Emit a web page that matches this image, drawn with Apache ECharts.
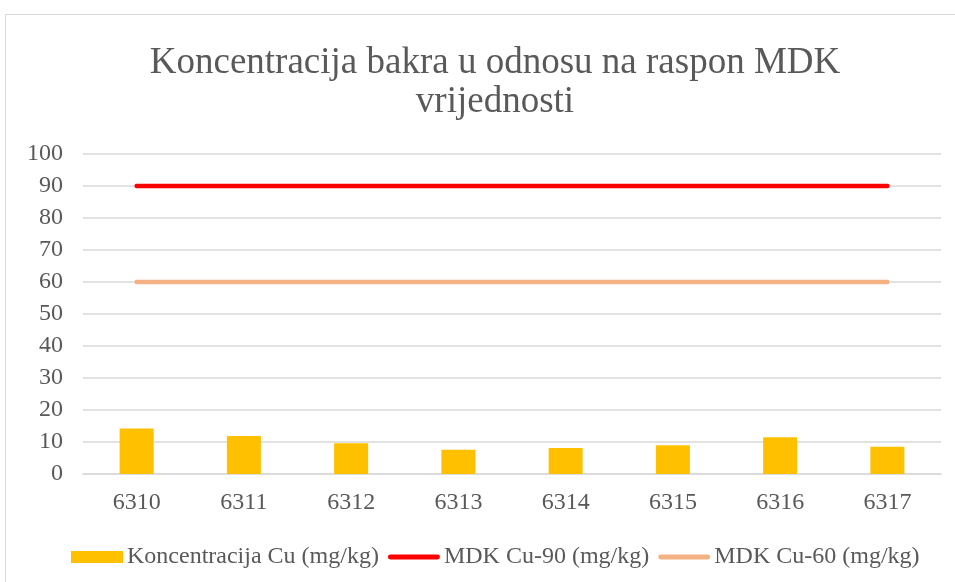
<!DOCTYPE html>
<html>
<head>
<meta charset="utf-8">
<script src="https://cdn.jsdelivr.net/npm/echarts@6/dist/echarts.min.js"></script>
<style>
  html, body { margin: 0; padding: 0; background: #fff; }
  #frame { position: absolute; left: 5px; top: 14px; width: 1000px; height: 600px; border: 1px solid #d9d9d9; }
  #chart { position: absolute; left: 0; top: 0; width: 955px; height: 582px; }
</style>
</head>
<body>
<div id="frame"></div>
<div id="chart"></div>
<script>
// podaci
const categories = ['6310', '6311', '6312', '6313', '6314', '6315', '6316', '6317']
const cuValues = [14.2, 11.9, 9.6, 7.6, 8.1, 9.0, 11.5, 8.5]
const mdk90 = [90, 90, 90, 90, 90, 90, 90, 90]
const mdk60 = [60, 60, 60, 60, 60, 60, 60, 60]

const font = 'Liberation Serif, Times New Roman, serif'
const textColor = '#595959'
const lineIcon = 'path://M2,0 L50,0 A2.5,2.5 0 0 1 50,5 L2,5 A2.5,2.5 0 0 1 2,0 Z'

const chart = echarts.init(document.getElementById('chart'))
chart.setOption({
    animation: false,
    title: {
        text: 'Koncentracija bakra u odnosu na raspon MDK\nvrijednosti',
        left: 490,
        top: 39,
        textAlign: 'center',
        textStyle: {
            fontFamily: font,
            fontWeight: 'normal',
            fontSize: 37,
            lineHeight: 39,
            color: textColor
        }
    },
    color: ['#ffc000', '#ff0000', '#f4b183'],
    grid: {
        left: 83,
        right: 14,
        top: 154,
        bottom: 108,
        containLabel: false
    },
    legend: {
        top: 540,
        left: 66,
        itemWidth: 52,
        itemHeight: 12,
        itemGap: 9,
        textStyle: {
            fontFamily: font,
            fontSize: 24,
            color: textColor,
            padding: [0, 0, 0, -1]
        },
        data: [
            { name: 'Koncentracija Cu (mg/kg)', icon: 'rect' },
            { name: 'MDK Cu-90 (mg/kg)', icon: lineIcon },
            { name: 'MDK Cu-60 (mg/kg)', icon: lineIcon }
        ]
    },
    xAxis: {
        type: 'category',
        data: categories,
        axisTick: { show: false },
        axisLine: { lineStyle: { color: '#d9d9d9', width: 1.5 } },
        axisLabel: {
            fontFamily: font,
            fontSize: 24,
            color: textColor,
            margin: 17
        }
    },
    yAxis: {
        type: 'value',
        min: 0,
        max: 100,
        interval: 10,
        axisLine: { show: false },
        axisTick: { show: false },
        axisLabel: {
            fontFamily: font,
            fontSize: 24,
            color: textColor,
            margin: 20
        },
        splitLine: { lineStyle: { color: '#d9d9d9', width: 1.5 } }
    },
    series: [
        {
            name: 'Koncentracija Cu (mg/kg)',
            type: 'bar',
            data: cuValues,
            barWidth: 34
        },
        {
            name: 'MDK Cu-90 (mg/kg)',
            type: 'line',
            data: mdk90,
            symbol: 'none',
            lineStyle: { width: 4.5, cap: 'round' }
        },
        {
            name: 'MDK Cu-60 (mg/kg)',
            type: 'line',
            data: mdk60,
            symbol: 'none',
            lineStyle: { width: 4.5, cap: 'round' }
        }
    ]
})
</script>
</body>
</html>
